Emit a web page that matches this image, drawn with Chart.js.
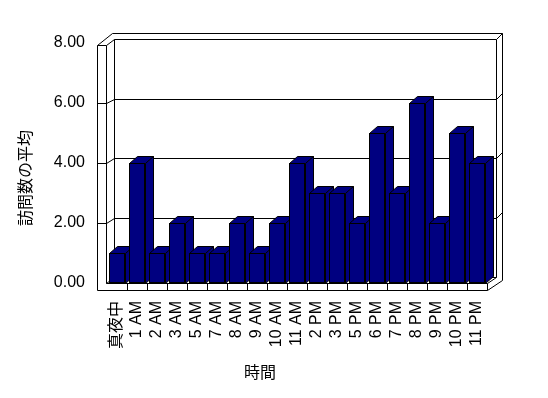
<!DOCTYPE html>
<html>
<head>
<meta charset="utf-8">
<script src="https://cdn.jsdelivr.net/npm/chart.js@4"></script>
<style>
  html, body { margin: 0; padding: 0; background: #fff; }
  canvas { display: block; }
</style>
</head>
<body>
<canvas id="myChart" width="548" height="398"></canvas>
<script>
// Chart data
const hours = ['真夜中', '1 AM', '2 AM', '3 AM', '5 AM', '7 AM', '8 AM', '9 AM', '10 AM', '11 AM',
  '2 PM', '3 PM', '5 PM', '6 PM', '7 PM', '8 PM', '9 PM', '10 PM', '11 PM'];
const visits = [1, 4, 1, 2, 1, 1, 2, 1, 2, 4, 3, 3, 2, 5, 3, 6, 2, 5, 4];
const yTicks = [0, 2, 4, 6, 8];
const xTitle = '時間';
const yTitle = '訪問数の平均';

const barColor = '#000080';
const fontFamily = "'Liberation Sans', 'Noto Sans CJK JP', sans-serif";
const depthX = 8, depthY = 7; // bar depth offset

const R0 = v => Math.round(v);

function line(ctx, pts) {
  ctx.beginPath();
  ctx.moveTo(R0(pts[0][0]), R0(pts[0][1]));
  for (let i = 1; i < pts.length; i++) ctx.lineTo(R0(pts[i][0]), R0(pts[i][1]));
  ctx.stroke();
}

function face(ctx, pts) {
  ctx.beginPath();
  ctx.moveTo(R0(pts[0][0]), R0(pts[0][1]));
  for (let i = 1; i < pts.length; i++) ctx.lineTo(R0(pts[i][0]), R0(pts[i][1]));
  ctx.closePath();
  ctx.fill();
  ctx.stroke();
}

// 3D box walls, floor and the top/side faces of the bars
const box3d = {
  id: 'box3d',
  beforeDatasetsDraw(chart) {
    const {ctx, chartArea: a, scales: {x, y}} = chart;
    const L = a.left, R = a.right;
    const B = y.getPixelForValue(0);
    const maxV = yTicks[yTicks.length - 1];
    const back = v => B - 6 - (B - y.getPixelForValue(v)) * 0.99;
    const xo = L - 10, xi = L - 1, xb = L + 7, xr = R + 9, xro = R + 15;
    const T = y.getPixelForValue(maxV) + 2, bT = back(maxV), oT = bT - 6;

    ctx.save();
    ctx.translate(0.5, 0.5);
    ctx.strokeStyle = '#000';
    ctx.lineWidth = 1;

    // outer outline
    line(ctx, [[xo, B + 7], [xo, T], [xo + 15, oT], [xro, oT], [xro, B - 3], [R, B + 7], [xo, B + 7]]);
    // left wall
    line(ctx, [[xo, T], [xi, T], [xb, bT]]);
    line(ctx, [[xi, T], [xi, B]]);
    line(ctx, [[xb, bT], [xb, back(0)]]);
    // back wall top and right
    line(ctx, [[xb, bT], [xr, bT], [xro, oT]]);
    line(ctx, [[xr, bT], [xr, back(0)]]);
    // floor
    line(ctx, [[xi, B], [R, B], [R, B + 7]]);
    line(ctx, [[R, B], [xr, back(0)]]);
    line(ctx, [[xi, B], [xb, back(0)], [xr, back(0)]]);
    // gridlines
    yTicks.slice(1, -1).forEach(v => {
      const fy = y.getPixelForValue(v), by = back(v);
      line(ctx, [[xo, fy], [xi, fy], [xb, by], [xr, by], [xro, by - 6]]);
    });
    // floor front ticks at category boundaries
    const step = (R - L) / hours.length;
    for (let i = 1; i < hours.length; i++) {
      const bx = x.getPixelForValue(i) - step / 2;
      line(ctx, [[bx, B], [bx, B + 7]]);
    }

    // bar tops and sides
    ctx.fillStyle = barColor;
    chart.getDatasetMeta(0).data.forEach(bar => {
      const p = bar.getProps(['x', 'y', 'base', 'width'], true);
      const l = p.x - p.width / 2, r = p.x + p.width / 2;
      face(ctx, [[l, p.y], [r, p.y], [r + depthX, p.y - depthY], [l + depthX, p.y - depthY]]);
      face(ctx, [[r, p.y], [r + depthX, p.y - depthY], [r + depthX, p.base - depthY], [r, p.base]]);
    });
    ctx.restore();
  },
  afterDraw(chart) {
    const ctx = chart.ctx;
    ctx.save();
    ctx.fillStyle = '#000';
    ctx.font = '16px ' + fontFamily;
    ctx.textAlign = 'center';
    ctx.textBaseline = 'middle';
    ctx.fillText(xTitle, 260, 374);
    ctx.translate(27, 178);
    ctx.rotate(-Math.PI / 2);
    ctx.fillText(yTitle, 0, 0);
    ctx.restore();
  }
};

const ctx = document.getElementById('myChart').getContext('2d');

const chart = new Chart(ctx, {
  type: 'bar',
  data: {
    labels: hours,
    datasets: [{
      data: visits,
      backgroundColor: barColor,
      borderColor: '#000',
      borderWidth: 1,
      borderSkipped: false,
      categoryPercentage: 0.8,
      barPercentage: 1
    }]
  },
  options: {
    responsive: false,
    animation: false,
    layout: { padding: { top: 43, right: 61, left: 0, bottom: 0 } },
    plugins: {
      legend: { display: false },
      tooltip: { enabled: false }
    },
    scales: {
      x: {
        afterFit: s => { s.height = 115; },
        grid: { display: false, drawTicks: false },
        border: { display: false },
        ticks: {
          autoSkip: false,
          maxRotation: 90,
          minRotation: 90,
          padding: 18,
          color: '#000',
          font: { family: fontFamily, size: 16 }
        }
      },
      y: {
        min: 0,
        max: 8,
        afterFit: s => { s.width = 107; },
        afterBuildTicks: s => { s.ticks = yTicks.map(v => ({ value: v })); },
        grid: { display: false, drawTicks: false },
        border: { display: false },
        ticks: {
          padding: 22,
          color: '#000',
          font: { family: fontFamily, size: 16 },
          callback: v => v.toFixed(2)
        }
      }
    }
  },
  plugins: [box3d]
});
</script>
</body>
</html>
